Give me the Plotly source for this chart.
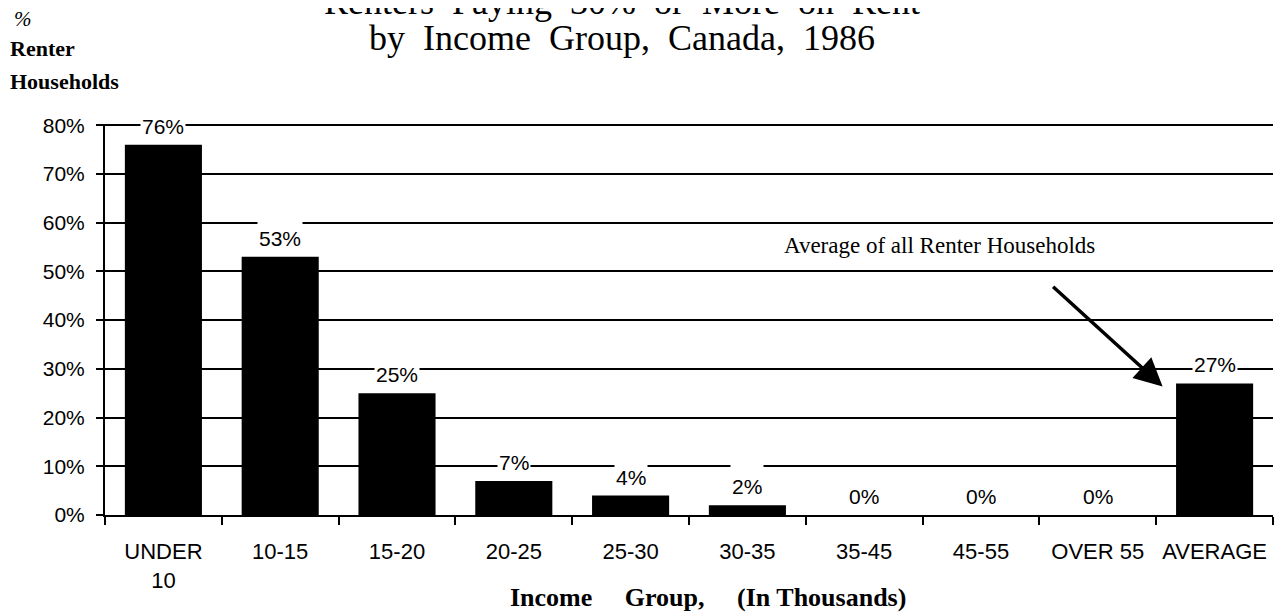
import plotly.graph_objects as go

categories = ["UNDER<br>10", "10-15", "15-20", "20-25", "25-30", "30-35",
              "35-45", "45-55", "OVER 55", "AVERAGE"]
values = [76, 53, 25, 7, 4, 2, 0, 0, 0, 27]
bar_labels = [f"{v}%" for v in values]
y_tickvals = [0, 10, 20, 30, 40, 50, 60, 70, 80]
y_ticktext = [f"{v}%" for v in y_tickvals]

title_line1 = "Renters  Paying  30%  or  More  on  Rent"
title_line2 = "by  Income  Group,  Canada,  1986"
x_title = "Income\u00a0\u00a0\u00a0\u00a0\u00a0Group,\u00a0\u00a0\u00a0\u00a0\u00a0(In Thousands)"
note_text = "Average of all Renter Households"

SANS = "Liberation Sans, Arial, sans-serif"
SERIF = "Liberation Serif, Times New Roman, serif"

# figure sized to fit inside the 8px page margin
W, H = 1274, 605
ML, MR, MT, MB = 97, 9, 116, 98
PW, PH = W - ML - MR, H - MT - MB


def px_to_paper(px, py):
    # screen pixel (with the 8px page offset) -> paper coordinates
    return (px - 8 - ML) / PW, (H - MB - (py - 8)) / PH


fig = go.Figure()
fig.add_trace(go.Bar(
    x=categories, y=values,
    marker=dict(color="black", line=dict(width=0)),
    hoverinfo="skip",
))

annotations = []
for c, v, t in zip(categories, values, bar_labels):
    annotations.append(dict(
        x=c, y=v, xref="x", yref="y", text=t, showarrow=False,
        yanchor="bottom", yshift=5, height=38, valign="bottom",
        bgcolor="white", borderpad=1,
        font=dict(family=SANS, size=21, color="black"),
    ))

# title (two lines, top one partly cut off)
tx, ty1 = px_to_paper(622, 2)
_, ty2 = px_to_paper(622, 38)
annotations.append(dict(x=tx, y=ty1, xref="paper", yref="paper",
                        text=title_line1.replace(" ", "\u00a0"), showarrow=False,
                        xanchor="center", yanchor="middle",
                        font=dict(family=SERIF, size=36, color="black")))
annotations.append(dict(x=tx, y=ty2, xref="paper", yref="paper",
                        text=title_line2.replace(" ", "\u00a0"), showarrow=False,
                        xanchor="center", yanchor="middle",
                        font=dict(family=SERIF, size=36, color="black")))

# y-axis title stacked at top-left
for txt, px, py, size in [("<i>%</i>", 12, 19, 21),
                          ("<b>Renter</b>", 8, 49, 22),
                          ("<b>Households</b>", 8, 81, 22)]:
    ax_, ay_ = px_to_paper(px, py)
    annotations.append(dict(x=ax_, y=ay_, xref="paper", yref="paper", text=txt,
                            showarrow=False, xanchor="left", yanchor="middle",
                            font=dict(family=SERIF, size=size, color="black")))

# x-axis title
xx, xy = px_to_paper(708, 597)
annotations.append(dict(x=xx, y=xy, xref="paper", yref="paper", text=f"<b>{x_title}</b>",
                        showarrow=False, xanchor="center", yanchor="middle",
                        font=dict(family=SERIF, size=26, color="black")))

# note and arrow
nx, ny = px_to_paper(782, 245)
annotations.append(dict(x=nx, y=ny, xref="paper", yref="paper", text=note_text,
                        showarrow=False, xanchor="left", yanchor="middle",
                        font=dict(family=SERIF, size=23, color="black")))
annotations.append(dict(x=categories[-1], y=values[-1], xref="x", yref="y", text="",
                        showarrow=True, arrowhead=2, arrowsize=1.6, arrowwidth=3.5,
                        arrowcolor="black", xshift=-52, yshift=-3, ax=-111, ay=-101))

fig.update_layout(
    width=W, height=H,
    margin=dict(l=ML, r=MR, t=MT, b=MB),
    paper_bgcolor="white", plot_bgcolor="white",
    showlegend=False, bargap=0.34,
    annotations=annotations,
    font=dict(family=SANS, color="black"),
)
fig.update_xaxes(
    type="category", showline=True, linecolor="black", linewidth=2,
    ticks="outside", tickson="boundaries", ticklen=8, tickwidth=2, tickcolor="black",
    showgrid=False, tickfont=dict(family=SANS, size=22, color="black"),
    ticklabelstandoff=16, automargin=False,
)
fig.update_yaxes(
    range=[0, 80.25], tickvals=y_tickvals, ticktext=y_ticktext,
    showline=True, linecolor="black", linewidth=2,
    ticks="outside", ticklen=7, tickwidth=2, tickcolor="black",
    showgrid=True, gridcolor="black", gridwidth=2, zeroline=False,
    tickfont=dict(family=SANS, size=21, color="black"), ticklabelstandoff=7,
    automargin=False,
)

fig.write_html("out.html")
